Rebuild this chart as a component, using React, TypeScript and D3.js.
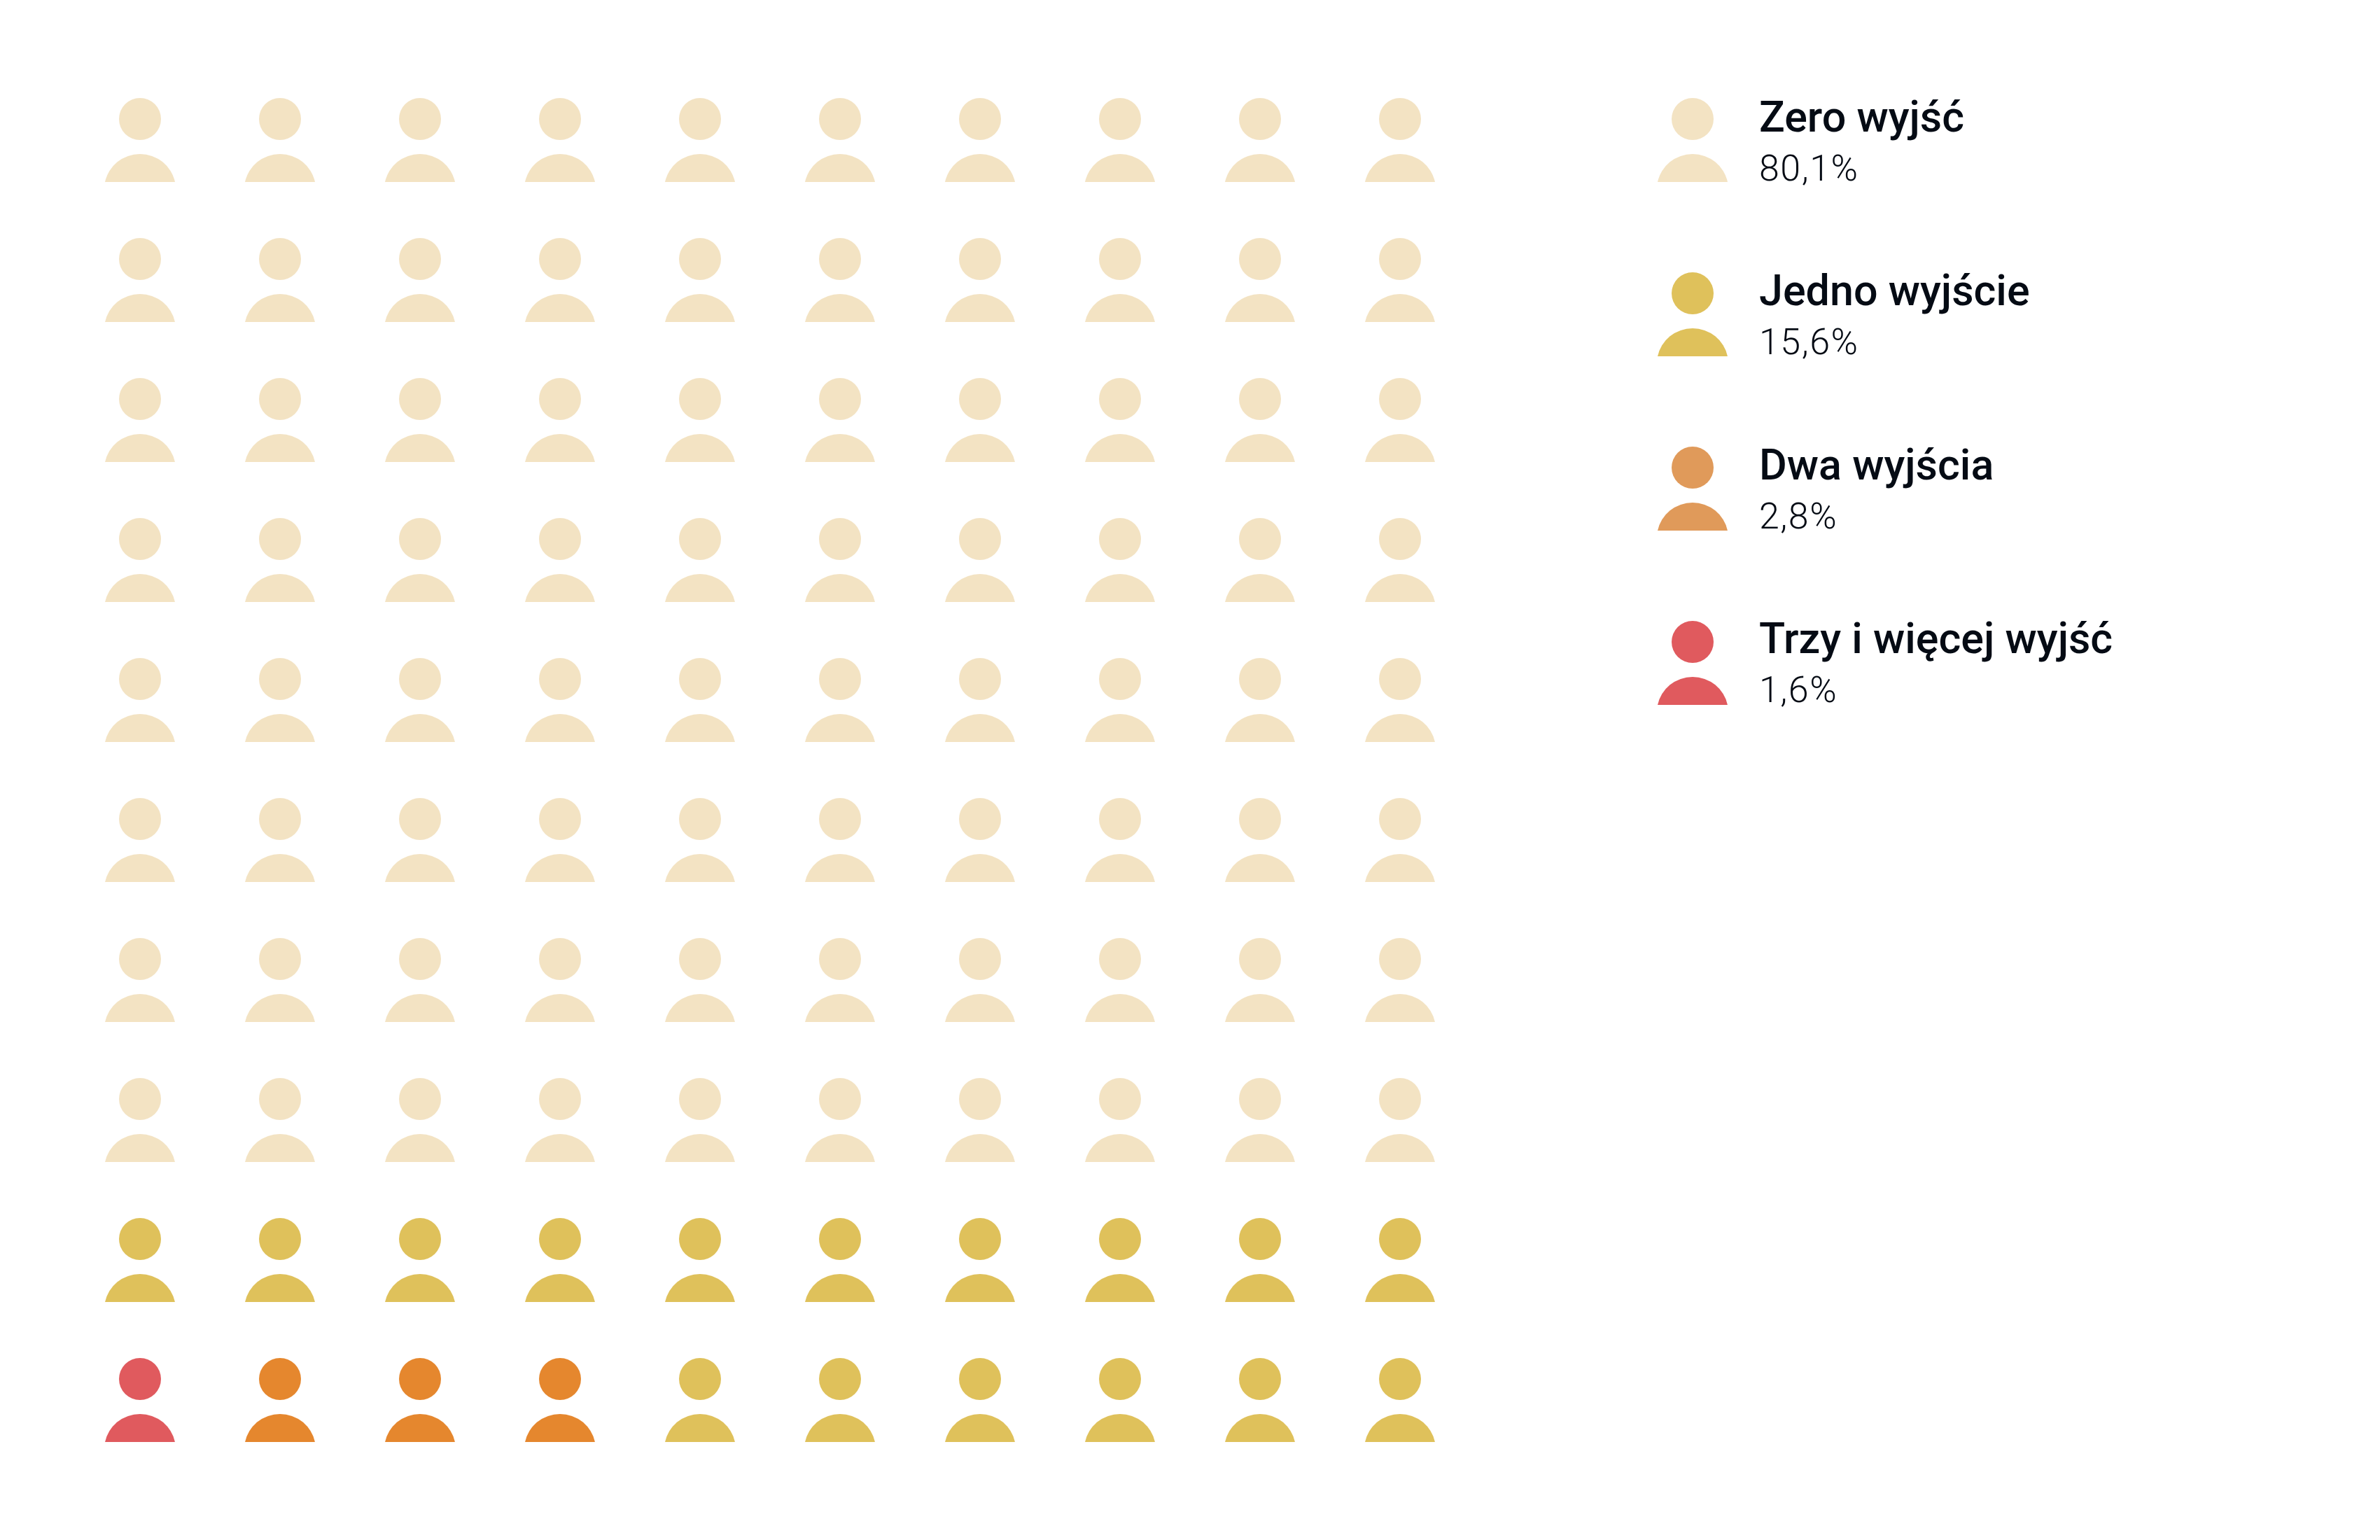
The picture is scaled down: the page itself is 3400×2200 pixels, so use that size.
import React from "react";
import * as d3 from "d3";

const categories = ["Zero wyjść", "Jedno wyjście", "Dwa wyjścia", "Trzy i więcej wyjść"];
const percentLabels = ["80,1%", "15,6%", "2,8%", "1,6%"];
const personCounts = [80, 16, 3, 1];
const gridColors = ["#f3e3c3", "#dfc15b", "#e5872e", "#e05a5e"];
const legendColors = ["#f3e3c3", "#dfc15b", "#e09a5a", "#e05a5e"];

const W = 3400, H = 2200;
const COLS = 10, ROWS = 10;
const xScale = d3.scaleLinear().domain([0, COLS - 1]).range([200, 2000]);
const yScale = d3.scaleLinear().domain([0, ROWS - 1]).range([170, 1970]);
const legendY = d3.scaleLinear().domain([0, 3]).range([170, 917]);
const legendTextY = d3.scaleLinear().domain([0, 3]).range([170, 915]);

const bodyPath = (() => {
  const rx = 51, ry = 50, cy = 100, baseY = 90;
  const halfWidth = rx * Math.sqrt(1 - ((cy - baseY) / ry) ** 2);
  return `M${-halfWidth},${baseY}A${rx},${ry} 0 0 1 ${halfWidth},${baseY}Z`;
})();

const cellCategory: number[] = (() => {
  const order: number[] = [];
  personCounts.forEach((n, c) => d3.range(n).forEach(() => order.push(c)));
  const out = new Array(COLS * ROWS).fill(0);
  order.forEach((c, k) => {
    const row = Math.floor(k / COLS);
    const col = k % COLS;
    out[row * COLS + (row === ROWS - 1 ? COLS - 1 - col : col)] = c;
  });
  return out;
})();

const Person = ({ x, y, fill }: { x: number; y: number; fill: string }) => (
  <g transform={`translate(${x},${y})`} fill={fill}>
    <circle cx={0} cy={0} r={30} />
    <path d={bodyPath} />
  </g>
);

const FONT = "Roboto, sans-serif";

export default function App() {
  return (
    <svg width={W} height={H} viewBox={`0 0 ${W} ${H}`}
      style={{ position: "absolute", left: 0, top: 0, display: "block", background: "#fff" }}>
      {cellCategory.map((c, i) => (
        <Person key={i} x={xScale(i % COLS)} y={yScale(Math.floor(i / COLS))} fill={gridColors[c]} />
      ))}
      {categories.map((name, i) => {
        const y = legendY(i);
        const ty = legendTextY(i);
        return (
          <g key={name}>
            <Person x={2418} y={y} fill={legendColors[i]} />
            <text x={2513} y={ty + 18} fontFamily={FONT} fontWeight={500} fontSize={61} fill="#050b14">{name}</text>
            <text x={2513} y={ty + 88} fontFamily={FONT} fontWeight={300} fontSize={52} letterSpacing={1.5} fill="#050b14">{percentLabels[i]}</text>
          </g>
        );
      })}
    </svg>
  );
}
